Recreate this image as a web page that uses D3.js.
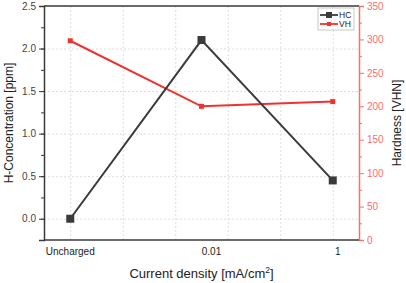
<!DOCTYPE html>
<html>
<head>
<meta charset="utf-8">
<script src="https://cdn.jsdelivr.net/npm/d3@7"></script>
<style>
    body { margin: 0; background: #fff; }
    text { font-family: "Liberation Sans", Arial, sans-serif; }
    .grid line { stroke: #d4d4d4; stroke-dasharray: 2,2; stroke-width: 0.8; }
</style>
</head>
<body>
<div id="chart"></div>
<script>
// data
const categories = ["Uncharged", "0.01", "1"];
const hcValues = [0, 2.1, 0.45];       // H-Concentration [ppm]
const vhValues = [298, 200, 207];      // Hardness [VHN]
const leftTicks = [0, 0.5, 1.0, 1.5, 2.0, 2.5];
const rightTicks = [0, 50, 100, 150, 200, 250, 300, 350];

let margin = {top: 6, right: 47, bottom: 43, left: 44},
    width = 406 - margin.left - margin.right,
    height = 283 - margin.top - margin.bottom;

let svg = d3.select("#chart")
    .append("svg")
    .attr("width", 406)
    .attr("height", 283)
    .append("g")
    .attr("transform", `translate(${margin.left}, ${margin.top})`);

// x is a position index: the points sit on 0.5, 3 and 5.5
let x = d3.scaleLinear().domain([0, 6]).range([0, width]);
let catPos = [0.5, 3, 5.5];

let yL = d3.scaleLinear().domain([-0.25, 2.5]).range([height, 0]);
let yR = d3.scaleLinear().domain([0, 350]).range([height, 0]);

const dark = "#3a3a3a", red = "#f23030", redAxis = "#f57070";

// grid
svg.append("g")
    .attr("class", "grid")
    .call(d3.axisLeft(yL).tickValues(leftTicks.slice(0, -1)).tickSize(-width).tickFormat(""))
    .call(g => g.select(".domain").remove());
svg.append("g")
    .attr("class", "grid")
    .attr("transform", `translate(0, ${height})`)
    .call(d3.axisBottom(x).tickValues([0.5, 1.5, 2.5, 3.5, 4.5, 5.5]).tickSize(-height).tickFormat(""))
    .call(g => g.select(".domain").remove());

// left axis, minor then major
svg.append("g")
    .call(d3.axisLeft(yL).tickValues(d3.range(-0.25, 2.51, 0.25)).tickSize(3).tickFormat(""))
    .call(g => g.selectAll("line").attr("stroke", dark))
    .call(g => g.select(".domain").remove());
svg.append("g")
    .call(d3.axisLeft(yL).tickValues(leftTicks).tickSize(5).tickFormat(d3.format(".1f")))
    .call(g => g.select(".domain").attr("stroke", dark).attr("stroke-width", 1.5))
    .call(g => g.selectAll("line").attr("stroke", dark))
    .call(g => g.selectAll("text").attr("fill", "#444").attr("font-size", 10).attr("font-family", "Liberation Sans, Arial, sans-serif"));

// right axis
svg.append("g")
    .attr("transform", `translate(${width}, 0)`)
    .call(d3.axisRight(yR).tickValues(d3.range(25, 350, 50)).tickSize(3).tickFormat(""))
    .call(g => g.selectAll("line").attr("stroke", redAxis))
    .call(g => g.select(".domain").remove());
svg.append("g")
    .attr("transform", `translate(${width}, 0)`)
    .call(d3.axisRight(yR).tickValues(rightTicks).tickSize(5))
    .call(g => g.select(".domain").attr("stroke", redAxis).attr("stroke-width", 1.5))
    .call(g => g.selectAll("line").attr("stroke", redAxis))
    .call(g => g.selectAll("text").attr("fill", redAxis).attr("font-size", 10).attr("font-family", "Liberation Sans, Arial, sans-serif"));

// top and bottom frame lines
svg.append("line").attr("x1", 0).attr("x2", width).attr("y1", 0).attr("y2", 0)
    .attr("stroke", dark).attr("stroke-width", 1.5);
svg.append("line").attr("x1", 0).attr("x2", width).attr("y1", height).attr("y2", height)
    .attr("stroke", dark).attr("stroke-width", 1.5);

// x tick labels
let labelShift = [0, 10, 5];
svg.selectAll(".xlab")
    .data(categories)
    .join("text")
    .attr("class", "xlab")
    .attr("x", (d, i) => x(catPos[i]) + labelShift[i])
    .attr("y", height + 15)
    .attr("text-anchor", "middle")
    .attr("font-size", 10)
    .attr("fill", "#222")
    .text(d => d);

// axis titles
svg.append("text")
    .attr("x", width / 2)
    .attr("y", height + 38)
    .attr("text-anchor", "middle")
    .attr("font-size", 13)
    .attr("fill", "#222")
    .html('Current density [mA/cm<tspan dy="-5" font-size="8.5">2</tspan><tspan dy="5">]</tspan>');

svg.append("text")
    .attr("transform", `translate(${-margin.left + 13}, ${height / 2}) rotate(-90)`)
    .attr("text-anchor", "middle")
    .attr("font-size", 12)
    .attr("fill", "#222")
    .text("H-Concentration [ppm]");

svg.append("text")
    .attr("transform", `translate(${width + 42}, ${height / 2}) rotate(-90)`)
    .attr("text-anchor", "middle")
    .attr("font-size", 12)
    .attr("fill", "#222")
    .text("Hardness [VHN]");

// lines
let hcLine = d3.line().x((d, i) => x(catPos[i])).y(d => yL(d));
let vhLine = d3.line().x((d, i) => x(catPos[i])).y(d => yR(d));

svg.append("path")
    .datum(vhValues)
    .attr("fill", "none")
    .attr("stroke", red)
    .attr("stroke-width", 2)
    .attr("d", vhLine);

svg.append("path")
    .datum(hcValues)
    .attr("fill", "none")
    .attr("stroke", dark)
    .attr("stroke-width", 2)
    .attr("d", hcLine);

// markers
svg.selectAll(".vhDot")
    .data(vhValues)
    .join("rect")
    .attr("class", "vhDot")
    .attr("x", (d, i) => x(catPos[i]) - 2.5)
    .attr("y", d => yR(d) - 2.5)
    .attr("width", 5).attr("height", 5)
    .attr("fill", red);

svg.selectAll(".hcDot")
    .data(hcValues)
    .join("rect")
    .attr("class", "hcDot")
    .attr("x", (d, i) => x(catPos[i]) - 4)
    .attr("y", d => yL(d) - 4)
    .attr("width", 8).attr("height", 8)
    .attr("fill", dark);

// legend
let legend = svg.append("g").attr("transform", `translate(${width - 41}, 2)`);
legend.append("rect")
    .attr("width", 36).attr("height", 22)
    .attr("fill", "#fff").attr("stroke", "#bbb").attr("stroke-width", 0.8);
let legendItems = [
    {name: "HC", color: dark, size: 6},
    {name: "VH", color: red, size: 4}
];
legendItems.forEach(function(d, i) {
    let yy = 7 + i * 9;
    legend.append("line").attr("x1", 2).attr("x2", 20).attr("y1", yy).attr("y2", yy)
        .attr("stroke", d.color).attr("stroke-width", 1.8);
    legend.append("rect").attr("x", 11 - d.size / 2).attr("y", yy - d.size / 2)
        .attr("width", d.size).attr("height", d.size).attr("fill", d.color);
    legend.append("text").attr("x", 21).attr("y", yy + 3)
        .attr("font-size", 8.5).attr("fill", "#222").text(d.name);
});
</script>
</body>
</html>
